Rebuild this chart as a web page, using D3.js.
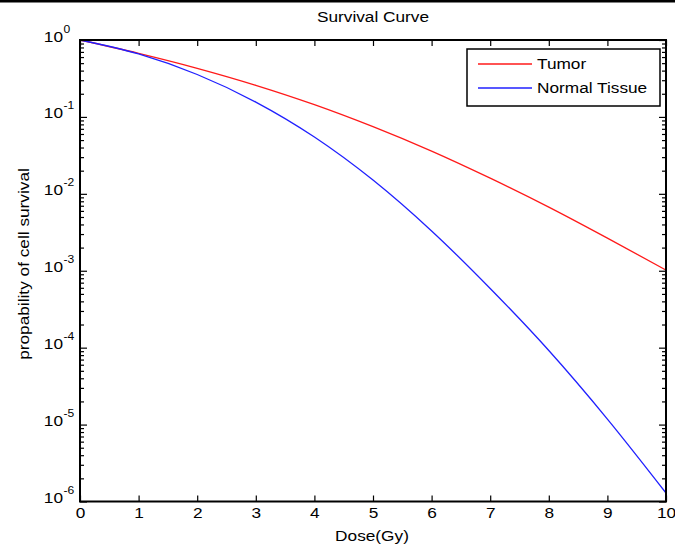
<!DOCTYPE html>
<html>
<head>
<meta charset="utf-8">
<script src="https://cdn.jsdelivr.net/npm/d3@7"></script>
<style>
  body { margin: 0; background: #fff; }
  svg text { font-family: "Liberation Sans", Arial, Helvetica, sans-serif; fill: #000; }
</style>
</head>
<body>
<svg id="chart" width="675" height="549"></svg>
<script>
// dose in Gy
let doses = [0, 1, 2, 3, 4, 5, 6, 7, 8, 9, 10];
// surviving fraction
let tumor = [1, 0.671, 0.429, 0.258, 0.1446, 0.0748, 0.0360, 0.0160, 0.00673, 0.00266, 0.00102];
let normalTissue = [1, 0.658, 0.356, 0.156, 0.0548, 0.0151, 0.00329, 5.88e-4, 9.18e-5, 1.18e-5, 1.29e-6];

let xTicks = [0, 1, 2, 3, 4, 5, 6, 7, 8, 9, 10];
let yExponents = [0, -1, -2, -3, -4, -5, -6];
let seriesNames = ['Tumor', 'Normal Tissue'];
let seriesColors = ['#ff1a1a', '#2020ff'];

let STRETCH = 'scale(1.15,1)';

let svg = d3.select('#chart');
let plotLeft = 80, plotRight = 666, plotTop = 40, plotBottom = 501.5;

let x = d3.scaleLinear().domain([0, 10]).range([plotLeft, plotRight]);
let y = d3.scaleLog().domain([1e-6, 1]).range([plotBottom, plotTop]);

// black rule across the top of the page
svg.append('rect')
  .attr('x', 0).attr('y', 0)
  .attr('width', 675).attr('height', 2.5)
  .attr('fill', '#000');

// minor ticks for the log axis: 2..9 x 10^k
let minorTicks = [];
yExponents.slice(1).forEach(e => {
  for (let m = 2; m <= 9; m++) minorTicks.push(m * Math.pow(10, e));
});
let majorTicks = yExponents.map(e => Math.pow(10, e));

function cleanAxis (g) {
  g.select('.domain').remove();
  g.selectAll('line').attr('stroke', '#000').attr('stroke-width', 1.2);
}

// x axis, bottom with labels, top without
svg.append('g')
  .attr('transform', 'translate(0,' + plotBottom + ')')
  .call(d3.axisBottom(x).tickValues(xTicks).tickSize(-6).tickPadding(6).tickFormat(d3.format('d')))
  .call(cleanAxis)
  .call(g => g.selectAll('text')
    .attr('font-size', 15)
    .attr('transform', STRETCH));
svg.append('g')
  .attr('transform', 'translate(0,' + plotTop + ')')
  .call(d3.axisTop(x).tickValues(xTicks).tickSize(-6).tickFormat(''))
  .call(cleanAxis);

// y axis ticks on both sides
[[d3.axisLeft, plotLeft], [d3.axisRight, plotRight]].forEach(([axis, pos]) => {
  svg.append('g')
    .attr('transform', 'translate(' + pos + ',0)')
    .call(axis(y).tickValues(majorTicks).tickSize(-7).tickFormat(''))
    .call(cleanAxis);
  svg.append('g')
    .attr('transform', 'translate(' + pos + ',0)')
    .call(axis(y).tickValues(minorTicks).tickSize(-4).tickFormat(''))
    .call(cleanAxis);
});

// y tick labels as 10 with superscript exponent
let yLabels = svg.append('g').selectAll('g')
  .data(yExponents)
  .join('g')
  .attr('transform', d => 'translate(63,' + (y(Math.pow(10, d)) + 1.5) + ') ' + STRETCH);
yLabels.append('text')
  .attr('text-anchor', 'end')
  .attr('font-size', 15)
  .text('10');
yLabels.append('text')
  .attr('x', 0.5)
  .attr('y', -9)
  .attr('font-size', 10.5)
  .text(d => d === 0 ? '0' : '-' + Math.abs(d));

// curves
let line = d3.line()
  .x((d, i) => x(doses[i]))
  .y(d => y(d))
  .curve(d3.curveMonotoneX);

let plot = svg.append('g');
[tumor, normalTissue].forEach((values, i) => {
  plot.append('path')
    .datum(values)
    .attr('d', line)
    .attr('fill', 'none')
    .attr('stroke', seriesColors[i])
    .attr('stroke-width', 1.3);
});

// frame
svg.append('rect')
  .attr('x', plotLeft).attr('y', plotTop)
  .attr('width', plotRight - plotLeft).attr('height', plotBottom - plotTop)
  .attr('fill', 'none')
  .attr('stroke', '#000')
  .attr('stroke-width', 2);

// legend
let legend = svg.append('g');
legend.append('rect')
  .attr('x', 467).attr('y', 49)
  .attr('width', 193).attr('height', 57)
  .attr('fill', '#fff')
  .attr('stroke', '#000')
  .attr('stroke-width', 1.5);
let legendRows = [64, 88];
seriesNames.forEach((name, i) => {
  legend.append('line')
    .attr('x1', 478).attr('x2', 532)
    .attr('y1', legendRows[i]).attr('y2', legendRows[i])
    .attr('stroke', seriesColors[i])
    .attr('stroke-width', 1.3);
  legend.append('text')
    .attr('transform', 'translate(537,' + (legendRows[i] + 4.8) + ') ' + STRETCH)
    .attr('font-size', 15)
    .text(name);
});

// title and axis labels
svg.append('text')
  .attr('transform', 'translate(373,22) ' + STRETCH)
  .attr('text-anchor', 'middle')
  .attr('font-size', 15)
  .text('Survival Curve');
svg.append('text')
  .attr('transform', 'translate(372,541) ' + STRETCH)
  .attr('text-anchor', 'middle')
  .attr('font-size', 15)
  .text('Dose(Gy)');
svg.append('text')
  .attr('transform', 'translate(28.5,264) rotate(-90) ' + STRETCH)
  .attr('text-anchor', 'middle')
  .attr('font-size', 15)
  .text('propability of cell survival');
</script>
</body>
</html>
